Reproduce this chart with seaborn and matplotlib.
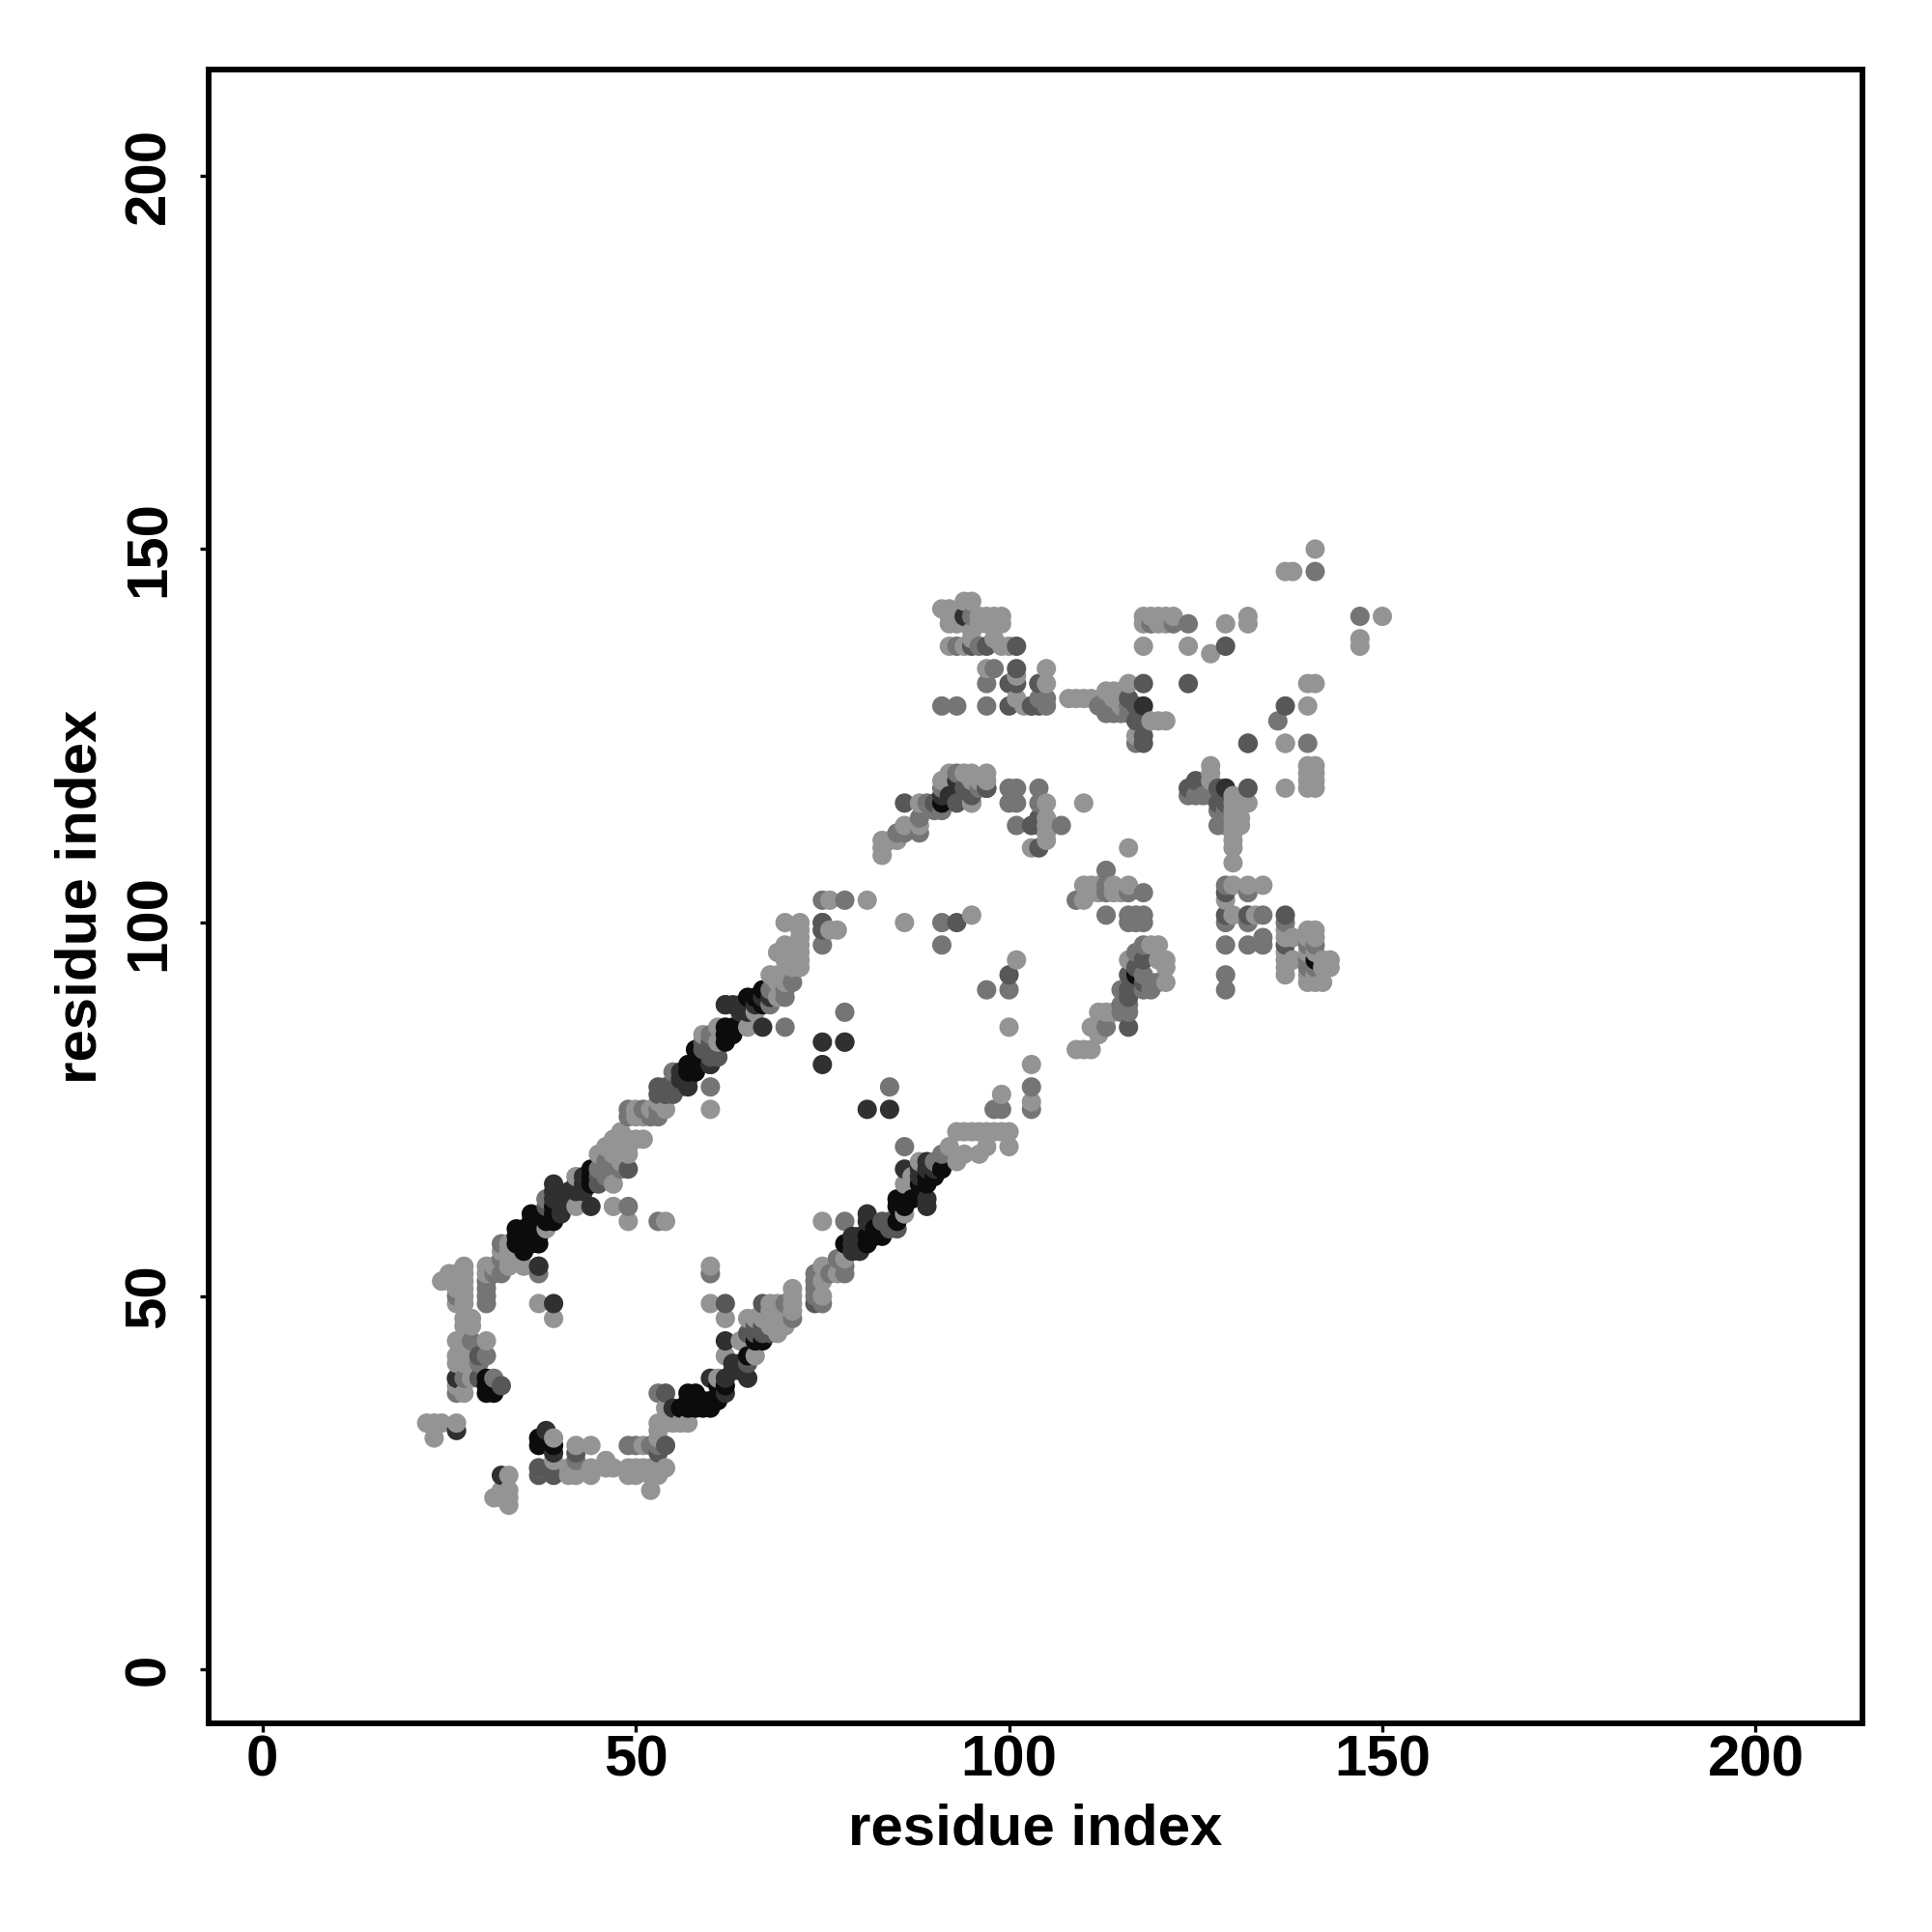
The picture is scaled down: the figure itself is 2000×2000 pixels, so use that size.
import pandas as pd
import matplotlib
matplotlib.use("Agg")
import matplotlib.pyplot as plt
import seaborn as sns

# contacts (residue i, residue j), one list per shade
light_pts = [
    (22,33),(23,33),(24,33),(23,31),(26,33),(33,26),(33,24),(33,23),(33,22),(32,24),(32,23),(31,23),
    (37,27),(39,28),(39,31),(41,26),(41,27),(42,26),(42,27),(42,30),(44,30),(44,26),(44,27),(46,28),(46,27),
    (47,27),(49,26),(49,27),(50,26),(50,27),(51,27),(51,30),(52,26),(52,27),(52,24),(53,27),(54,27),(53,26),
    (54,33),(54,35),(53,32),(53,31),(53,33),(55,33),(57,33),(56,33),(60,54),(60,49),(62,47),(62,42),(65,47),(66,42),
    (67,47),(68,46),(68,47),(68,48),(69,45),(69,46),(69,47),(69,48),(70,46),(70,47),(70,48),(71,48),(71,49),(71,50),(71,51),(68,49),(69,49),(67,48),
    (75,50),(75,54),(75,60),(86,65),(87,66),(86,61),(88,68),(92,70),(93,68),(93,72),(94,72),(94,69),(95,72),(96,72),(96,69),(97,72),(97,70),(98,72),(99,72),(99,77),(100,72),(100,70),
    (103,81),(103,76),(100,86),(109,83),(110,83),(111,83),(111,86),(112,86),(112,85),(113,88),(114,88),(112,88),(116,95),(120,97),(121,95),(121,94),(121,92),(120,95),(119,97),
    (110,103),(110,105),(111,105),(111,104),(112,105),(112,104),(114,105),(114,104),(115,104),(116,105),(116,110),(95,116),(97,120),(105,116),(105,114),(105,113),(105,112),(105,111),(103,110),(110,116),
    (127,121),(127,120),(127,119),(130,117),(130,116),(130,115),(130,114),(131,114),(130,113),(131,113),(130,112),(130,111),(130,110),(130,108),(132,116),(137,124),(137,118),
    (140,121),(140,120),(141,121),(141,120),(141,119),(140,119),(141,118),(140,118),(129,103),(130,105),(132,105),(134,105),(130,101),(133,101),
    (137,99),(137,98),(138,98),(137,96),(137,95),(138,95),(137,94),(137,93),(140,99),(141,99),(140,98),(141,98),(140,96),(141,96),(140,93),(141,93),(140,92),(141,92),(142,92),(142,94),(142,95),(143,95),(143,94),
    (137,147),(138,147),(141,150),(129,140),(132,141),(132,140),(118,137),(124,137),(127,136),(118,141),(119,141),(120,141),(121,141),(122,141),(118,140),(120,140),(121,140),
    (147,138),(147,137),(150,141),(140,132),(141,132),(140,129),(116,132),(137,124),(108,130),(109,130),(110,130),(111,130),(113,131),(114,131),(115,131),(114,130),(115,129),(119,127),(120,127),(121,127),(117,125),
    (95,143),(94,143),(92,142),(91,142),(92,141),(92,140),(93,141),(93,140),(95,139),(96,141),(97,141),(98,141),(99,141),(99,140),(98,140),(97,140),(96,140),(92,137),(94,137),(95,138),(98,138),(99,137),(100,137),
    (97,134),(105,134),(101,133),(105,132),(101,130),(103,129),(102,129),
    (92,120),(94,120),(95,120),(97,119),(96,119),(95,119),(91,119),(88,116),(95,116),(86,113),(88,113),(83,111),(83,110),(83,109),(84,111),(85,111),
    (70,92),(70,93),(69,93),(69,92),(68,93),(69,90),(69,96),(70,95),(70,97),(71,95),(71,96),(71,94),(72,100),(72,99),(72,98),(72,97),(72,96),(72,95),(72,94),(70,100),(76,99),(77,99),(76,103),(81,103),(86,100),(95,101),(101,95),
    (54,75),(53,76),(52,75),(51,74),(50,75),(50,74),(61,86),(60,75),(65,86),(66,88),(59,85),(61,84),(42,66),(42,62),(47,62),(47,65),(45,69),(46,70),(47,71),(47,70),(47,69),(48,72),(48,71),(48,70),(48,69),(48,68),(49,71),(49,70),(49,69),(50,71),(51,71),(49,60),(38,59),(38,63),(54,60),
    (33,57),(33,56),(33,55),(32,56),(33,54),(35,54),(37,49),(39,47),(24,52),(25,52),(25,53),(26,53),(26,52),(26,51),(26,49),(27,54),(27,53),(27,52),(27,51),(27,50),(27,49),(30,54),(30,53),(31,54),
    (27,47),(27,46),(28,46),(28,47),(26,44),(27,44),(30,44),(26,42),(27,42),(28,42),(26,41),(27,41),(28,41),(27,37),(26,38),(28,39),
    (78,55),(77,53),(75,52),(61,39),(64,44),(66,47),
]
mid_pts = [
    (26,37),(27,39),(29,41),(30,42),(31,39),(30,49),(30,50),(30,52),(26,50),(32,55),(32,53),(37,53),(42,28),(49,30),(50,30),(52,30),(53,30),(53,37),(60,53),
    (67,46),(70,49),(74,50),(74,51),(74,52),(74,53),(75,49),(71,47),(78,53),(78,54),(77,55),(76,53),(78,60),(84,78),(86,70),(91,69),(90,68),(103,78),(103,75),(98,75),(99,75),
    (70,86),(78,84),(60,78),(78,88),(75,97),(75,103),(78,103),(91,100),(91,97),(97,91),(100,91),(100,118),(101,118),(100,116),(101,116),(101,113),(104,118),(104,116),(107,113),(97,118),
    (113,107),(109,103),(113,105),(113,104),(116,104),(118,104),(113,101),(116,101),(116,100),(117,101),(118,101),(118,100),(117,100),(118,97),(117,96),(118,93),(119,92),(120,92),(119,91),(118,91),(113,86),(115,91),(115,89),(116,89),(116,88),(115,88),
    (124,117),(125,117),(126,117),(127,117),(128,115),(129,115),(129,113),(128,113),(132,104),(129,105),(129,100),(132,100),(129,97),(132,97),(134,98),(134,97),(134,101),(129,93),(129,91),(137,100),(140,97),(141,97),(140,95),(141,94),(140,94),
    (141,147),(124,140),(147,141),(136,127),(140,124),(113,130),(112,129),(113,129),(114,129),(116,129),(113,128),(114,128),(115,128),(116,128),(117,124),(118,127),
    (91,129),(93,129),(97,129),(97,132),(104,132),(105,130),(104,130),(105,129),(98,134),(93,137),(96,137),(94,141),(95,141),(119,140),(122,140),
    (91,118),(86,112),(85,112),(88,112),(88,114),(89,116),(90,115),(91,115),(93,120),(96,118),(70,91),(71,92),(75,99),(75,100),(49,75),(49,74),(51,75),(52,74),(53,74),(53,75),(55,80),(60,85),(68,89),(68,91),(70,90),
    (49,62),(53,60),(45,67),(46,67),(46,66),(46,68),(38,63),(48,67),(32,57),(31,53),(30,51),(28,44),(29,42),
]
darkmid_pts = [
    (26,39),(29,39),(29,42),(32,38),(37,26),(39,26),(39,27),(42,29),(53,29),(54,30),(54,37),(62,49),(67,49),(74,49),(66,46),(67,46),(37,54),
    (75,99),(75,100),(93,100),(100,93),(116,86),(104,114),(103,113),(104,113),(104,110),(116,93),(117,94),(118,95),(118,92),(116,91),(116,90),(117,92),
    (97,118),(124,118),(125,119),(128,116),(128,118),(129,116),(129,118),(132,118),(132,124),(137,101),(137,97),(129,104),(129,101),(132,101),
    (137,129),(124,132),(118,132),(118,127),(117,127),(118,125),(118,124),(117,129),(116,130),(129,137),(132,124),(100,132),(101,132),(101,134),(100,129),(103,129),(104,129),(95,137),(97,137),(101,137),(104,132),
    (86,116),(90,116),(93,116),(94,118),(95,117),(97,118),(45,65),(45,66),(49,67),(53,78),(53,77),(54,77),(55,77),(60,81),(56,78),(62,89),(38,62),(37,27),(65,45),(66,44),
    (84,60),(84,59),(85,59),(83,60),(60,84),(59,84),(59,83),(60,82),(60,83),(61,82),(65,41),(66,45),(67,45),(68,45),(54,78),(55,78),
]
dark_pts = [
    (26,32),(32,26),(38,32),(39,29),(62,44),(63,41),(65,39),(60,39),(55,35),(80,58),(80,56),(78,84) ,(75,84),(75,81),(81,75),(84,75),(86,67),(89,63),(89,62),(81,60),(81,61),
    (62,89),(63,89),(64,89),(60,81),(57,78),(67,86),(39,65),(41,64),(39,63),(39,64),(44,62),(42,65),(37,54),(39,49),(26,39),
    (118,129),(129,118),(92,117),(91,117),(93,119),(94,141),
    (88,66),(88,67),(90,67),(89,67),(89,68),(79,57),(79,56),(79,58),(80,57),(64,88),(65,88),(65,89),(66,89),(67,90),(68,90),
    (62,37),(62,39),(63,40),(64,41),(64,40),(40,61),(40,62),(41,63),(42,64),(43,64),(43,65),(43,66),(56,79),(56,80),(57,79),
]
black_pts = [
    (30,39),(30,37),(31,37),(30,38),(37,30),(37,31),(39,30),(56,35),(57,35),(58,35),(59,35),(60,35),(57,36),(58,36),(59,36),(60,36),(61,36),(57,37),(58,37),(61,38),(62,38),(65,42),(66,44),(67,44),
    (78,57),(81,57),(82,58),(83,58),(81,58),(82,59),(83,59),(85,60),(85,63),(86,63),(87,63),(85,62),(86,62),(88,65),(89,65),(89,66),(90,66),(91,67),
    (34,57),(35,57),(35,56),(34,58),(35,59),(34,59),(36,60),(36,61),(37,57),(36,58),(37,58),(35,58),(38,60),(39,60),(39,61),(38,61),(39,62),(36,57),(37,59),(37,60),(36,59),
    (44,67),(44,66),(44,65),(57,81),(58,83),(58,81),(59,82),(57,80),(58,80),(62,86),(62,85),(62,84),(63,86),(63,85),(65,90),(66,90),(67,91),(67,89),
    (117,93),(141,95),(91,116),
]
shades = {"light": 0.58, "mid": 0.46, "darkmid": 0.34, "dark": 0.19, "black": 0.05}
groups = {"light": light_pts, "mid": mid_pts, "darkmid": darkmid_pts, "dark": dark_pts, "black": black_pts}
ticks = [0, 50, 100, 150, 200]

rows = []
for name, pts in groups.items():
    for p in pts:
        rows.append({"i": p[0], "j": p[1], "shade": shades[name]})
contacts = pd.DataFrame(rows)
# points go down in residue order, later ones cover earlier ones
contacts = contacts.sort_values(["i", "j"], kind="stable")

sns.set_style("white")
plt.rcParams["font.family"] = ["Liberation Sans", "DejaVu Sans"]
plt.rcParams["font.weight"] = "bold"
plt.rcParams["text.color"] = "black"
plt.rcParams["axes.labelcolor"] = "black"
plt.rcParams["xtick.labelcolor"] = "black"
plt.rcParams["ytick.labelcolor"] = "black"

fig = plt.figure(figsize=(10, 10), dpi=200)
ax = fig.add_axes([0.108, 0.108, 0.856, 0.856])
sns.scatterplot(data=contacts, x="i", y="j", hue="shade", palette="gray", hue_norm=(0, 1),
                s=52, linewidth=0, legend=False, ax=ax)
ax.set_xlim(-7.2, 214.3)
ax.set_ylim(-7.2, 214.2)
ax.set_xticks(ticks)
ax.set_yticks(ticks)
ax.tick_params(axis="both", direction="out", length=3.1, width=1.2, color="black", labelsize=21.6,
               left=True, bottom=True)
ax.tick_params(axis="x", pad=1)
ax.tick_params(axis="y", pad=9)
for lab in ax.get_yticklabels():
    lab.set_rotation(90)
    lab.set_va("center")
for side in ax.spines.values():
    side.set_linewidth(2.1)
    side.set_color("black")
ax.set_xlabel("residue index", fontsize=21.6, fontweight="bold", labelpad=5.9)
ax.set_ylabel("residue index", fontsize=21.6, fontweight="bold", labelpad=5.7)
fig.savefig("out.png", dpi=200)
plt.close()
